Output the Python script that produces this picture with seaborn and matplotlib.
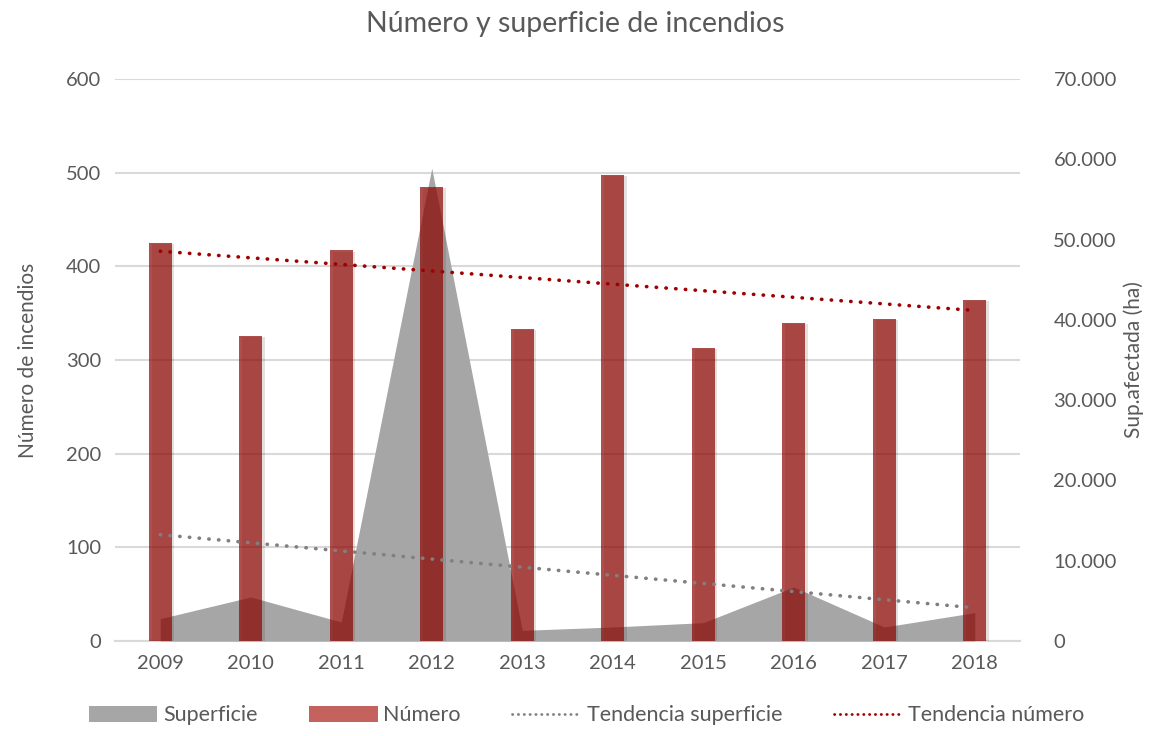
import numpy as np
import pandas as pd
import seaborn as sns
import matplotlib.pyplot as plt
import matplotlib.patheffects as pe
from matplotlib.patches import Patch
from matplotlib.lines import Line2D
from matplotlib.ticker import FuncFormatter

years = ["2009", "2010", "2011", "2012", "2013", "2014", "2015", "2016", "2017", "2018"]
numero = [425, 326, 417, 485, 333, 498, 313, 340, 344, 364]
superficie = [2790, 5490, 2370, 58900, 1330, 1750, 2290, 6730, 1750, 3540]

bar_color = "#8e0502"   # drawn with alpha -> looks like #b0504e on white, darker over the area
area_color = "#a6a6a6"
trend_num_color = "#a00000"
trend_sup_color = "#808080"
text_color = "#595959"
grid_color = "#d9d9d9"

sns.set_theme(style="white")
plt.rcParams["font.family"] = ["Lato", "DejaVu Sans"]

df = pd.DataFrame({"year": years, "numero": numero, "superficie": superficie})
xpos = np.arange(len(years))

fig, ax = plt.subplots(figsize=(11.5, 7.36), dpi=100)
fig.subplots_adjust(left=0.1, right=0.887, top=0.8927, bottom=0.129)

# base axis: left ticks + grid (bottom layer)
ax.set_xlim(-0.5, 9.5)
ax.set_ylim(0, 600)
ax.set_yticks(np.arange(0, 601, 100))
ax.set_xticks(xpos)
ax.set_xticklabels(years)
ax.yaxis.grid(True, color=grid_color, lw=1.5)

# area on the secondary axis
ax2 = ax.twinx()
ax2.fill_between(xpos, df["superficie"], color=area_color, lw=0)
ax2.set_ylim(0, 70000)
ax2.set_yticks(np.arange(0, 70001, 10000))
ax2.yaxis.set_major_formatter(FuncFormatter(lambda v, p: f"{int(v):,}".replace(",", ".")))

# bars + number trend, above the area
axb = ax.twinx()
sns.barplot(data=df, x="year", y="numero", color=bar_color, width=0.25,
            saturation=1, ax=axb, alpha=0.7, linewidth=0)
for p in axb.patches:
    p.set_path_effects([pe.SimplePatchShadow(offset=(2, -1), alpha=0.12), pe.Normal()])
sns.regplot(x=xpos, y=np.array(numero), scatter=False, ci=None, ax=axb,
            line_kws=dict(color=trend_num_color, lw=2.6, ls=(0, (0.1, 2.6)),
                          dash_capstyle="round"))
axb.set_ylim(0, 600)
axb.set_xlim(-0.5, 9.5)
axb.axis("off")

# surface trend on top
ax3 = ax.twinx()
sns.regplot(x=xpos, y=np.array(superficie), scatter=False, ci=None, ax=ax3,
            line_kws=dict(color=trend_sup_color, lw=2.6, ls=(0, (0.1, 2.6)),
                          dash_capstyle="round"))
ax3.set_ylim(0, 70000)
ax3.set_xlim(-0.5, 9.5)
ax3.axis("off")

for a in (ax, ax2):
    for s in a.spines.values():
        s.set_visible(False)
ax.spines["bottom"].set_visible(True)
ax.spines["bottom"].set_color(grid_color)
ax.spines["bottom"].set_linewidth(1.5)

ax.tick_params(axis="both", colors=text_color, labelsize=14.5, length=0, pad=10)
ax2.tick_params(axis="y", colors=text_color, labelsize=14.5, length=0, pad=24)
for lbl in ax2.get_yticklabels():
    lbl.set_horizontalalignment("left")

ax.set_xlabel("")
ax.set_ylabel("Número de incendios", color=text_color, fontsize=15, labelpad=20)
ax2.set_ylabel("Sup.afectada (ha)", color=text_color, fontsize=15, labelpad=5)

fig.suptitle("Número y superficie de incendios", color=text_color, fontsize=20.5, y=0.985)

handles = [
    Patch(facecolor=area_color, edgecolor="none"),
    Patch(facecolor="#c4625e", edgecolor="none"),
    Line2D([], [], color=trend_sup_color, lw=2, ls=(0, (0.1, 2.0)), dash_capstyle="round"),
    Line2D([], [], color=trend_num_color, lw=2, ls=(0, (0.1, 2.0)), dash_capstyle="round"),
]
labels = ["Superficie", "Número", "Tendencia superficie", "Tendencia número"]
leg = fig.legend(handles, labels, loc="lower center", ncol=4, frameon=False,
                 bbox_to_anchor=(0.51, -0.012), fontsize=15.5, handlelength=3.2,
                 handleheight=0.8, columnspacing=2.4, handletextpad=0.25)
for t in leg.get_texts():
    t.set_color(text_color)

fig.savefig("out.png", dpi=100)
